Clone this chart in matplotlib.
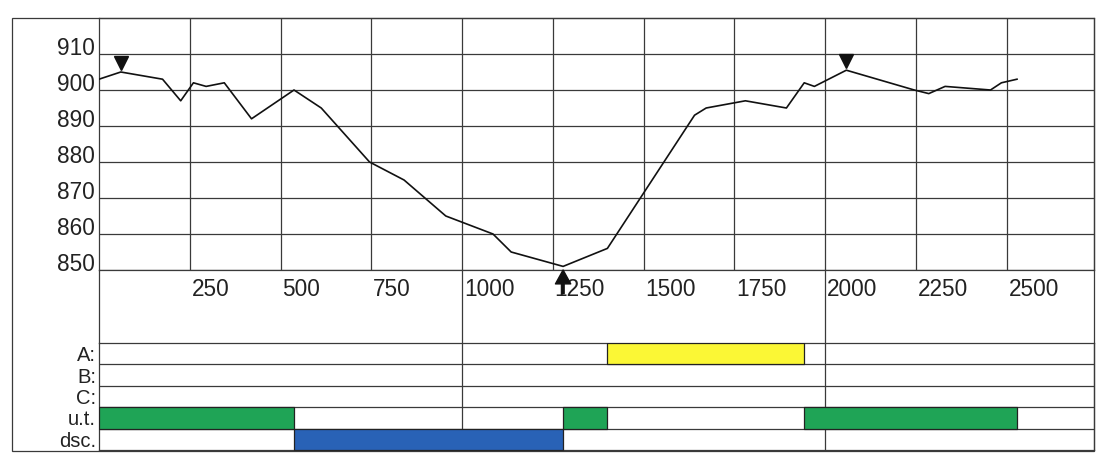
import numpy as np
import matplotlib
matplotlib.use('Agg')
import matplotlib.pyplot as plt
import matplotlib.transforms as mtransforms
from matplotlib.patches import Rectangle
from matplotlib.lines import Line2D

plt.rcParams['font.family'] = ['Liberation Sans', 'DejaVu Sans']

# profilo: distanza / quota
dist = [0, 60, 175, 225, 260, 295, 345, 420, 537, 612, 745, 840, 955, 1085,
        1135, 1278, 1400, 1640, 1672, 1780, 1893, 1942, 1970, 2058, 2245,
        2285, 2330, 2455, 2485, 2528]
elev = [903, 905, 903, 897, 902, 901, 902, 892, 900, 895, 880, 875, 865, 860,
        855, 851, 856, 893, 895, 897, 895, 902, 901, 905.5, 900,
        899, 901, 900, 902, 903]

peak_x = [60, 2058]      # triangoli in giu
trough_x = [1278]        # freccia in su

x_ticks = [250, 500, 750, 1000, 1250, 1500, 1750, 2000, 2250, 2500]
y_ticks = [850, 860, 870, 880, 890, 900, 910]

# striscia in basso
rows = ['A:', 'B:', 'C:', 'u.t.', 'dsc.']
a_spans = [(1400, 1942)]
b_spans = []
c_spans = []
ut_spans = [(0, 537), (1278, 1400), (1942, 2528)]
dsc_spans = [(537, 1278)]
row_colors = ['#fbf735', '#fbf735', '#1fa456', '#1fa456', '#2962b6']

W, H = 1102, 466
XMAX = 2740
GRID = '#3a3a3a'


def fx(px):
    return px / W


def fy(px):
    return 1 - px / H


fig = plt.figure(figsize=(W / 100, H / 100), dpi=100)

# --- grafico superiore ---
ax = fig.add_axes([fx(99), fy(270), fx(1094) - fx(99), fy(18) - fy(270)])
ax.set_xlim(0, XMAX)
ax.set_ylim(850, 920)
ax.set_xticks(x_ticks)
ax.set_yticks(y_ticks)
ax.grid(True, color=GRID, lw=0.9)
ax.tick_params(length=0, labelbottom=False, labelleft=False)
for s in ax.spines.values():
    s.set_color(GRID)
    s.set_linewidth(0.9)
ax.plot(dist, elev, color='#111111', lw=1.2, zorder=3)

for t in x_ticks:
    ax.annotate(str(t), xy=(t, 0), xycoords=('data', 'axes fraction'),
                xytext=(1.2, -5.5), textcoords='offset points',
                ha='left', va='top', fontsize=16.3, color='#222222',
                annotation_clip=False)
for v in y_ticks:
    ax.annotate(str(v), xy=(0, v), xycoords=('axes fraction', 'data'),
                xytext=(-3.2, 4), textcoords='offset points',
                ha='right', va='center', fontsize=16.3, color='#222222',
                annotation_clip=False)

# triangoli sopra i massimi
up = mtransforms.ScaledTranslation(0, 6.5 / 72, fig.dpi_scale_trans)
ax.plot(peak_x, np.interp(peak_x, dist, elev), 'v', ms=9.5, color='#111111',
        transform=ax.transData + up, clip_on=False, zorder=4)

# freccia sotto il minimo
for t in trough_x:
    ax.annotate('', xy=(t, 0), xycoords=('data', 'axes fraction'),
                xytext=(0, -17), textcoords='offset points',
                arrowprops=dict(facecolor='#111111', edgecolor='#111111',
                                width=1.5, headwidth=11, headlength=10,
                                shrink=0),
                annotation_clip=False, zorder=5)

# --- striscia ---
axs = fig.add_axes([fx(99), fy(450), fx(1094) - fx(99), fy(343) - fy(450)])
axs.set_xlim(0, XMAX)
axs.set_ylim(0, 5)
axs.set_xticks([])
axs.set_yticks([4.5, 3.5, 2.5, 1.5, 0.5])
axs.set_yticklabels(rows, fontsize=14.5, color='#222222')
axs.tick_params(length=0, pad=2)
for s in axs.spines.values():
    s.set_color(GRID)
    s.set_linewidth(0.9)
for k in range(1, 5):
    axs.axhline(k, color=GRID, lw=0.9, zorder=1)
for xv in [1000, 2000]:
    axs.axvline(xv, color=GRID, lw=0.9, zorder=1)

all_spans = [a_spans, b_spans, c_spans, ut_spans, dsc_spans]
for i, (spans, col) in enumerate(zip(all_spans, row_colors)):
    if spans:
        axs.broken_barh([(a, b - a) for a, b in spans], (4 - i, 1),
                        facecolors=col, edgecolor='#222222', lw=0.9,
                        zorder=3)

# linee verticali tra grafico e striscia
bt = mtransforms.blended_transform_factory(ax.transData, fig.transFigure)
for xv in [0, 1000, 2000]:
    fig.add_artist(Line2D([xv, xv], [fy(270), fy(343)], transform=bt,
                          color=GRID, lw=0.9))

# cornice esterna
fig.add_artist(Rectangle((fx(12), fy(451)), fx(1094) - fx(12),
                         fy(18) - fy(451), transform=fig.transFigure,
                         fill=False, edgecolor=GRID, lw=0.9))

fig.savefig('out.png', dpi=100)
